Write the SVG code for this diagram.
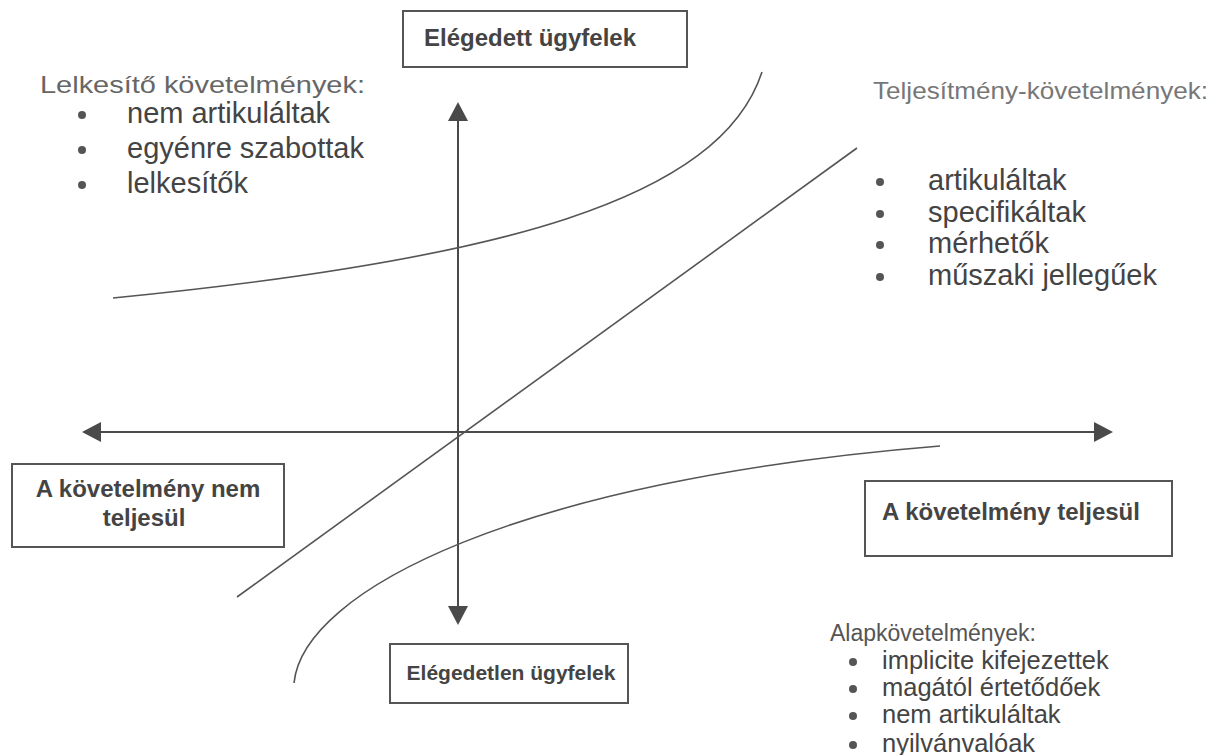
<svg xmlns="http://www.w3.org/2000/svg" width="1222" height="755" viewBox="0 0 1222 755">
  <defs>
    <marker id="tip" viewBox="0 0 19 20" refX="0" refY="10" markerWidth="19" markerHeight="20" markerUnits="userSpaceOnUse" orient="auto-start-reverse">
      <path d="M0,0 L19,10 L0,20 z" fill="#4a4a4a"/>
    </marker>
    <style>
      .axis { stroke: #4a4a4a; stroke-width: 2; fill: none; }
      .curve { stroke: #555; stroke-width: 1.6; fill: none; }
      .box rect { fill: #fff; stroke: #555; stroke-width: 2; }
      .box text { font-family: "Liberation Sans", Arial, sans-serif; font-weight: bold; font-size: 24px; fill: #444; text-anchor: middle; }
      .box text.sm { font-size: 21px; }
      .head { font-family: "Liberation Sans", Arial, sans-serif; font-size: 24px; fill: #666; }
      .item { font-family: "Liberation Sans", Arial, sans-serif; font-size: 29px; fill: #444; }
      .item.small { font-size: 25.5px; }
      .dot { fill: #555; }
    </style>
  </defs>
  <rect width="1222" height="755" fill="#fff"/>

  <!-- axes, trend lines and curves -->
  <g id="connectors">
    <line class="axis" x1="101" y1="432" x2="1094" y2="432" marker-start="url(#tip)" marker-end="url(#tip)"/>
    <line class="axis" x1="458" y1="121" x2="458" y2="606" marker-start="url(#tip)" marker-end="url(#tip)"/>
    <path class="curve" d="M113,298 C500,260 720,200 762,72"/>
    <line class="curve" x1="237" y1="597" x2="857" y2="148"/>
    <path class="curve" d="M294,683 C303,590 520,480 940,446"/>
  </g>

  <g id="node-satisfied" class="box">
    <rect x="403" y="11" width="284" height="56"/>
    <text x="530" y="46">Elégedett ügyfelek</text>
  </g>

  <g id="node-unsatisfied" class="box">
    <rect x="390" y="644" width="238" height="59"/>
    <text class="sm" x="511" y="680">Elégedetlen ügyfelek</text>
  </g>

  <g id="node-not-met" class="box">
    <rect x="12" y="464" width="272" height="83"/>
    <text x="148" y="497">A követelmény nem</text>
    <text x="144" y="526">teljesül</text>
  </g>

  <g id="node-met" class="box">
    <rect x="865" y="481" width="307" height="75"/>
    <text x="1011" y="520">A követelmény teljesül</text>
  </g>

  <g id="node-exciting">
    <text class="head" x="40" y="93" textLength="325" lengthAdjust="spacingAndGlyphs">Lelkesítő követelmények:</text>
    <circle class="dot" cx="82" cy="115" r="4"/>
    <text class="item" x="127" y="123">nem artikuláltak</text>
    <circle class="dot" cx="82" cy="150" r="4"/>
    <text class="item" x="127" y="158">egyénre szabottak</text>
    <circle class="dot" cx="82" cy="185" r="4"/>
    <text class="item" x="127" y="193">lelkesítők</text>
  </g>

  <g id="node-performance">
    <text class="head" x="873" y="99" textLength="335" lengthAdjust="spacingAndGlyphs" style="fill:#777">Teljesítmény-követelmények:</text>
    <circle class="dot" cx="880" cy="182" r="4"/>
    <text class="item" x="928" y="190">artikuláltak</text>
    <circle class="dot" cx="880" cy="214" r="4"/>
    <text class="item" x="928" y="222">specifikáltak</text>
    <circle class="dot" cx="880" cy="245" r="4"/>
    <text class="item" x="928" y="253">mérhetők</text>
    <circle class="dot" cx="880" cy="277" r="4"/>
    <text class="item" x="928" y="285">műszaki jellegűek</text>
  </g>

  <g id="node-basic">
    <text class="head" x="830" y="641" style="font-size:23px;fill:#555">Alapkövetelmények:</text>
    <circle class="dot" cx="853" cy="662" r="4"/>
    <text class="item small" x="882" y="669">implicite kifejezettek</text>
    <circle class="dot" cx="853" cy="689" r="4"/>
    <text class="item small" x="882" y="696">magától értetődőek</text>
    <circle class="dot" cx="853" cy="716" r="4"/>
    <text class="item small" x="882" y="723">nem artikuláltak</text>
    <circle class="dot" cx="853" cy="745" r="4"/>
    <text class="item small" x="882" y="752">nyilvánvalóak</text>
  </g>
</svg>
